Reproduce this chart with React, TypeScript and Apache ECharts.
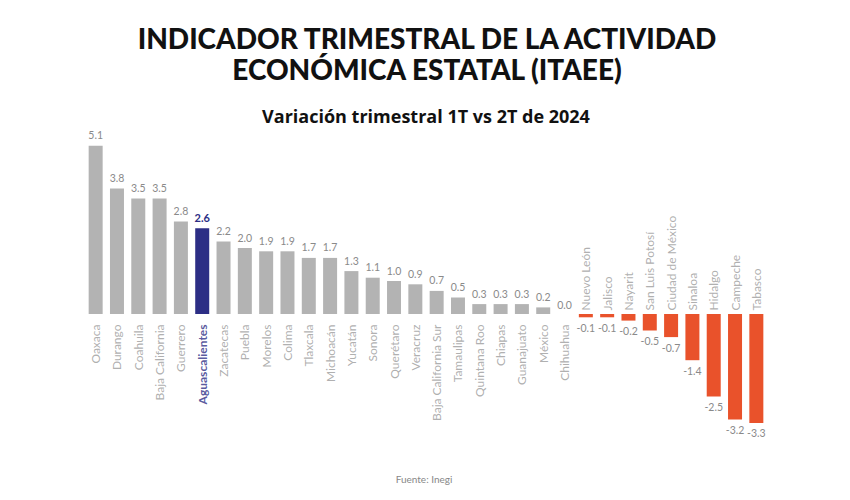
import React, { useEffect, useRef } from "react";
import * as echarts from "echarts";

const titleLine1 = "INDICADOR TRIMESTRAL DE LA ACTIVIDAD";
const titleLine2 = "ECONÓMICA ESTATAL (ITAEE)";
const subtitle = "Variación trimestral 1T vs 2T de 2024";
const source = "Fuente: Inegi";

const states = [
  "Oaxaca", "Durango", "Coahuila", "Baja California", "Guerrero", "Aguascalientes",
  "Zacatecas", "Puebla", "Morelos", "Colima", "Tlaxcala", "Michoacán", "Yucatán",
  "Sonora", "Querétaro", "Veracruz", "Baja California Sur", "Tamaulipas", "Quintana Roo",
  "Chiapas", "Guanajuato", "México", "Chihuahua", "Nuevo León", "Jalisco", "Nayarit",
  "San Luis Potosí", "Ciudad de México", "Sinaloa", "Hidalgo", "Campeche", "Tabasco",
];
const values = [
  5.1, 3.8, 3.5, 3.5, 2.8, 2.6, 2.2, 2.0, 1.9, 1.9, 1.7, 1.7, 1.3, 1.1, 1.0, 0.9, 0.7,
  0.5, 0.3, 0.3, 0.3, 0.2, 0.0, -0.1, -0.1, -0.2, -0.5, -0.7, -1.4, -2.5, -3.2, -3.3,
];
const highlight = "Aguascalientes";

const GRAY = "#b3b3b3";
const NAVY = "#2c2e85";
const ORANGE = "#e9522b";
const FONT = "Lato";

export default function App() {
  const ref = useRef<HTMLDivElement>(null);
  useEffect(() => {
    if (!ref.current) return;
    const chart = echarts.init(ref.current, undefined, { renderer: "svg" });
    chart.setOption({
      animation: false,
      backgroundColor: "#ffffff",
      graphic: [
        {
          type: "text", x: 427, y: 24,
          style: { text: titleLine1, fontSize: 28, fontWeight: 900, fontFamily: FONT, fill: "#111", textAlign: "center" },
        },
        {
          type: "text", x: 427, y: 55,
          style: { text: titleLine2, fontSize: 28, fontWeight: 900, fontFamily: FONT, fill: "#111", textAlign: "center" },
        },
        {
          type: "text", x: 426, y: 107,
          style: { text: subtitle, fontSize: 18, fontWeight: "bold", fontFamily: "Open Sans", fill: "#111", textAlign: "center" },
        },
        {
          type: "text", x: 424, y: 474,
          style: { text: source, fontSize: 10, fontFamily: FONT, fill: "#888", textAlign: "center" },
        },
      ],
      grid: { left: 85, right: 83, top: 116, bottom: 54, containLabel: false, outerBoundsMode: "none" },
      xAxis: {
        type: "category", data: states,
        axisLine: { show: false }, axisTick: { show: false }, axisLabel: { show: false },
      },
      yAxis: { type: "value", min: -4, max: 6, show: false, splitLine: { show: false } },
      series: [
        {
          type: "bar",
          barWidth: 14,
          data: states.map((s, i) => {
            const v = values[i];
            const isHl = s === highlight;
            return {
              value: v,
              itemStyle: { color: isHl ? NAVY : v < 0 ? ORANGE : GRAY },
              label: {
                show: true,
                position: v === 0 ? "top" : "outside",
                distance: v === 0 ? 4 : 5,
                formatter: v.toFixed(1),
                fontFamily: FONT,
                fontSize: isHl ? 11 : 10.5,
                fontWeight: isHl ? "bold" : "normal",
                color: isHl ? NAVY : "#8a8a8a",
              },
            };
          }),
        },
        {
          type: "scatter",
          symbolSize: 1,
          itemStyle: { color: "rgba(0,0,0,0)" },
          silent: true,
          data: states.map((s, i) => {
            const v = values[i];
            const isHl = s === highlight;
            const neg = v < 0;
            return {
              value: [s, 0],
              label: {
                show: true,
                formatter: s,
                position: neg ? "top" : "bottom",
                distance: neg ? 3 : 10,
                rotate: 90,
                align: neg ? "left" : "right",
                verticalAlign: "middle",
                fontFamily: FONT,
                fontSize: 12,
                fontWeight: isHl ? "bold" : "normal",
                color: isHl ? NAVY : "#9a9a9a",
              },
            };
          }),
        },
      ],
    });
    return () => chart.dispose();
  }, []);
  return <div ref={ref} style={{ position: "fixed", left: 0, top: 0, width: 850, height: 500 }} />;
}
